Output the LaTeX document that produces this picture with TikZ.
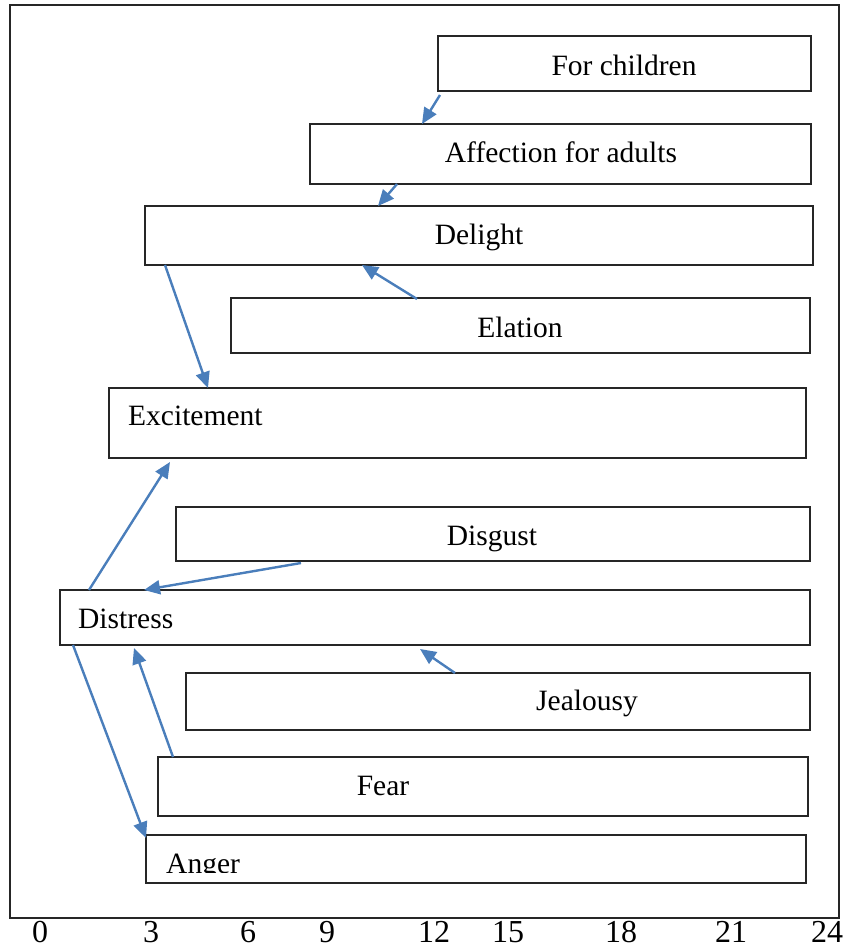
\documentclass[tikz,border=0pt]{standalone}
\usepackage{fontspec}
\setmainfont{Liberation Serif}
\usetikzlibrary{arrows.meta,calc}
\definecolor{arrblue}{RGB}{74,126,187}
\begin{document}
\begin{tikzpicture}[x=1pt,y=-1pt,
  box/.style={draw=black!85,line width=1.2pt,rectangle,inner sep=0pt,outer sep=0pt,anchor=north west},
  lbl/.style={font=\fontsize{29.5}{35}\selectfont,inner sep=0pt,anchor=base},
  lbll/.style={lbl,anchor=base west},
  axl/.style={font=\fontsize{32}{36}\selectfont,inner sep=0pt,anchor=base},
  arr/.style={draw=arrblue,line width=2.4pt,-{Triangle[length=16pt,width=14pt]}}]
\useasboundingbox (0,0) rectangle (847,948);
% outer frame
\node[box,minimum width=829pt,minimum height=913pt] (frame) at (10,5) {};
% boxes
\node[box,minimum width=373pt,minimum height=55pt] (fc) at (438,36) {};
\node[box,minimum width=501pt,minimum height=60pt] (aff) at (310,124) {};
\node[box,minimum width=668pt,minimum height=59pt] (del) at (145,206) {};
\node[box,minimum width=579pt,minimum height=55pt] (ela) at (231,298) {};
\node[box,minimum width=697pt,minimum height=70pt] (exc) at (109,388) {};
\node[box,minimum width=634pt,minimum height=54pt] (dsg) at (176,507) {};
\node[box,minimum width=750pt,minimum height=55pt] (dis) at (60,590) {};
\node[box,minimum width=624pt,minimum height=57pt] (jea) at (186,673) {};
\node[box,minimum width=650pt,minimum height=59pt] (fear) at (158,757) {};
\node[box,minimum width=660pt,minimum height=48pt] (ang) at (146,835) {};
% labels
\node[lbl] (tfc) at (624,75) {For children};
\node[lbl] (taff) at (561,162) {Affection for adults};
\node[lbl] (tdel) at (479,244) {Delight};
\node[lbl] (tela) at (520,337) {Elation};
\node[lbll] (texc) at (128,425) {Excitement};
\node[lbl] (tdsg) at (492,545) {Disgust};
\node[lbll] (tdis) at (78,628) {Distress};
\node[lbl] (tjea) at (587,710) {Jealousy};
\node[lbl] (tfear) at (383,795) {Fear};
\begin{scope}
\clip (147,836) rectangle (805,872);
\node[lbll] (tang) at (166,873) {Anger};
\end{scope}
% axis labels
\node[axl] (t0) at (40,942) {0};
\node[axl] (t3) at (151,942) {3};
\node[axl] (t6) at (248,942) {6};
\node[axl] (t9) at (327,942) {9};
\node[axl] (t12) at (434,942) {12};
\node[axl] (t15) at (508,942) {15};
\node[axl] (t18) at (621,942) {18};
\node[axl] (t21) at (731,942) {21};
\node[axl] (t24) at (827,942) {24};
% arrows
\draw[arr] ([xshift=2pt,yshift=-4pt]fc.south west) -- ([xshift=112pt]aff.north west);
\draw[arr] ([xshift=87pt]aff.south west) -- ([xshift=233pt]del.north west);
\draw[arr] ([xshift=186pt,yshift=-1pt]ela.north west) -- ([xshift=217pt]del.south west);
\draw[arr] ([xshift=20pt]del.south west) -- ([xshift=99pt]exc.north west);
\draw[arr] ([xshift=29pt]dis.north west) -- ([xshift=61pt,yshift=-4pt]exc.south west);
\draw[arr] ([xshift=125pt,yshift=-2pt]dsg.south west) -- ([xshift=84pt]dis.north west);
\draw[arr] ([xshift=269pt]jea.north west) -- ([xshift=360pt,yshift=-4pt]dis.south west);
\draw[arr] ([xshift=15pt]fear.north west) -- ([xshift=74pt,yshift=-3pt]dis.south west);
\draw[arr] ([xshift=13pt]dis.south west) -- ([yshift=-3pt]ang.north west);
\end{tikzpicture}
\end{document}
